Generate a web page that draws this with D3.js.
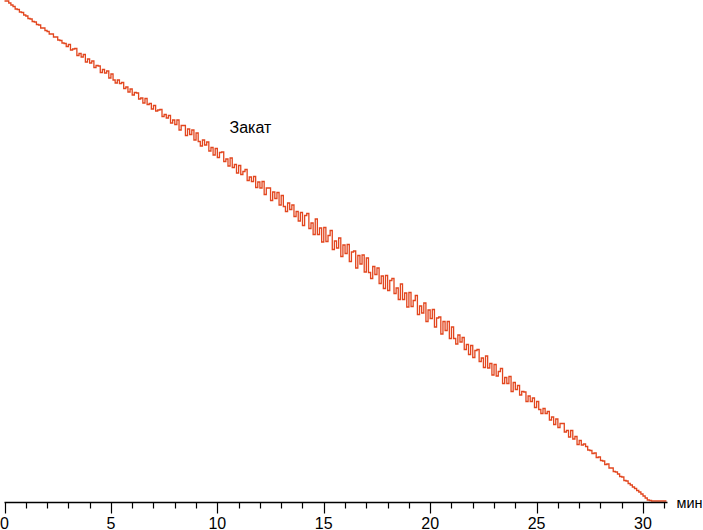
<!DOCTYPE html>
<html>
<head>
<meta charset="utf-8">
<script src="https://cdn.jsdelivr.net/npm/d3@7/dist/d3.min.js"></script>
<style>
  html, body { margin: 0; padding: 0; background: #fff; }
  svg { display: block; font-family: "Liberation Sans", Arial, sans-serif; }
</style>
</head>
<body>
<svg id="chart" width="703" height="530"></svg>
<script>
// ---- data ----
const seriesName = "Закат";
const axisUnit = "мин";
const sampleStep = 0.1;          // minutes between samples
const xMax = 31.15;              // end of axis, minutes
const majorTicks = [0, 5, 10, 15, 20, 25, 30];
const minorTicks = d3.range(0, 32, 1);
// brightness (%) sampled every 0.1 min, starting at 0 min
const brightness = [
  100, 100, 99.6, 99.2, 98.9, 98.4, 98.3, 97.8, 97.7, 97.2,
  97.0, 96.5, 96.4, 95.9, 95.8, 95.3, 95.2, 94.6, 94.6, 94.1,
  93.9, 93.4, 93.4, 92.8, 92.8, 92.2, 92.1, 91.6, 91.5, 90.9,
  91.3, 90.2, 90.4, 90.5, 89.1, 89.5, 88.8, 89.3, 87.8, 88.4,
  87.6, 88.0, 86.7, 87.1, 87.0, 85.7, 86.3, 85.6, 86.0, 84.6,
  85.4, 84.2, 83.6, 84.2, 83.5, 83.7, 82.5, 82.8, 81.8, 82.4,
  81.2, 81.7, 81.6, 80.4, 80.6, 79.6, 80.5, 79.3, 79.5, 78.4,
  79.1, 78.0, 78.2, 78.3, 76.9, 77.3, 76.6, 77.1, 75.6, 76.2,
  75.3, 76.2, 74.2, 75.1, 75.1, 73.1, 74.4, 73.3, 74.2, 72.2,
  73.6, 71.9, 71.0, 72.2, 71.2, 71.8, 70.0, 70.7, 69.2, 70.5,
  68.7, 69.7, 69.8, 67.9, 68.4, 67.0, 68.6, 66.7, 67.3, 65.6,
  67.1, 65.3, 65.9, 66.3, 64.1, 64.8, 63.9, 64.9, 62.7, 63.8,
  62.6, 63.9, 61.3, 62.6, 62.6, 60.1, 61.8, 60.5, 61.7, 59.2,
  61.1, 58.9, 57.9, 59.6, 58.3, 59.2, 56.9, 57.9, 56.0, 57.7,
  55.1, 57.1, 57.5, 54.5, 55.6, 53.3, 56.4, 53.3, 54.6, 51.8,
  54.7, 51.9, 53.1, 54.1, 50.3, 52.0, 50.6, 52.6, 48.9, 51.2,
  49.5, 51.3, 47.9, 49.8, 50.0, 46.6, 49.1, 47.4, 49.2, 45.8,
  48.6, 45.7, 44.5, 46.9, 45.3, 46.6, 43.5, 45.0, 42.5, 45.1,
  42.1, 44.1, 44.5, 41.5, 42.6, 40.3, 43.4, 40.3, 41.6, 38.8,
  41.7, 38.9, 40.1, 41.1, 37.3, 39.0, 37.6, 39.6, 35.9, 38.2,
  36.5, 38.3, 34.8, 36.6, 36.8, 33.4, 35.9, 34.1, 35.9, 32.5,
  34.8, 32.5, 31.4, 33.2, 31.8, 32.7, 30.3, 31.3, 29.3, 31.1,
  28.7, 30.1, 30.3, 27.9, 28.6, 26.7, 29.0, 26.6, 27.5, 25.2,
  27.3, 25.0, 25.9, 26.5, 23.5, 24.7, 23.5, 24.9, 21.9, 23.7,
  22.3, 23.1, 21.2, 21.9, 21.8, 19.9, 21.0, 19.9, 20.6, 18.7,
  19.9, 18.3, 17.5, 18.5, 17.5, 17.9, 16.2, 16.8, 15.3, 16.4,
  14.7, 15.5, 15.5, 13.8, 14.1, 12.8, 14.1, 12.4, 12.9, 11.3,
  12.1, 11.2, 11.4, 10.9, 10.2, 10.1, 9.5, 9.6, 8.7, 8.8,
  8.1, 8.0, 7.3, 7.4, 6.6, 6.6, 5.9, 5.8, 5.4, 4.9,
  4.8, 4.1, 4.0, 3.5, 3.2, 2.8, 2.5, 2.1, 1.8, 1.4,
  1.0, 0.6, 0.2, 0.1, 0, 0, 0, 0, 0, 0, 0, 0
];

// ---- drawing ----
const svg = d3.select("#chart");
const x = d3.scaleLinear().domain([0, xMax]).range([4.5, 667.5]);
const y = d3.scaleLinear().domain([0, 100]).range([501, 1]);
const axisY = 502.5;

const points = brightness.map((v, i) => ({ t: i * sampleStep, v }));

svg.append("path")
  .datum(points)
  .attr("fill", "none")
  .attr("stroke", "#e2461e")
  .attr("stroke-width", 1.3)
  .attr("d", d3.line().x(d => x(d.t)).y(d => y(d.v)).curve(d3.curveStepAfter));

const axis = svg.append("g").attr("transform", `translate(0,${axisY})`);
axis.append("line")
  .attr("x1", x(0)).attr("x2", x(xMax))
  .attr("y1", 0).attr("y2", 0)
  .attr("stroke", "#000").attr("stroke-width", 1.5);

axis.selectAll("line.minor").data(minorTicks.filter(t => !majorTicks.includes(t)))
  .join("line").attr("class", "minor")
  .attr("x1", d => Math.round(x(d)) + 0.5).attr("x2", d => Math.round(x(d)) + 0.5)
  .attr("y1", 0).attr("y2", 6)
  .attr("stroke", "#000").attr("stroke-width", 1.2);

axis.selectAll("line.major").data(majorTicks)
  .join("line").attr("class", "major")
  .attr("x1", d => Math.round(x(d)) + 0.5).attr("x2", d => Math.round(x(d)) + 0.5)
  .attr("y1", 0).attr("y2", 11)
  .attr("stroke", "#000").attr("stroke-width", 1.2);

axis.selectAll("text.tick").data(majorTicks)
  .join("text").attr("class", "tick")
  .attr("x", d => x(d)).attr("y", 26.5)
  .attr("text-anchor", "middle")
  .attr("font-size", 16)
  .attr("fill", "#000")
  .text(d => d);

svg.append("text")
  .attr("x", 676.5).attr("y", 508)
  .attr("font-size", 14.5)
  .attr("fill", "#000")
  .text(axisUnit);

svg.append("text")
  .attr("x", 229.5).attr("y", 133)
  .attr("font-size", 16)
  .attr("fill", "#000")
  .text(seriesName);
</script>
</body>
</html>
